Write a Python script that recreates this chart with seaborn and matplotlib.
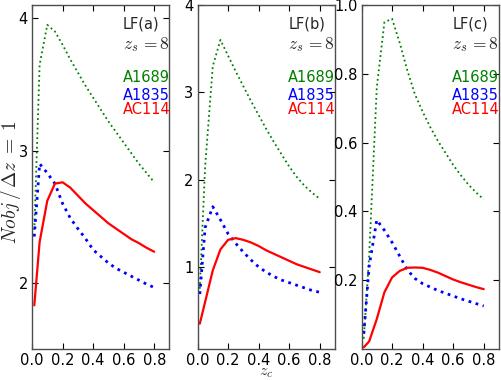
import pandas as pd
import seaborn as sns
import matplotlib
matplotlib.use("Agg")
import matplotlib.pyplot as plt

# source redshift grid (z_c)
z_c = [0.015, 0.05, 0.1, 0.15, 0.2, 0.25, 0.3, 0.35, 0.4, 0.45,
       0.5, 0.55, 0.6, 0.65, 0.7, 0.75, 0.8]

clusters = ["A1689", "A1835", "AC114"]
panels = ["LF(a)", "LF(b)", "LF(c)"]

# LF(a)
a1689_a = [2.40, 3.65, 3.95, 3.90, 3.80, 3.69, 3.59, 3.49, 3.40, 3.31,
           3.22, 3.14, 3.06, 2.98, 2.90, 2.83, 2.76]
a1835_a = [2.35, 2.90, 2.83, 2.75, 2.60, 2.49, 2.41, 2.335, 2.25, 2.20,
           2.15, 2.11, 2.08, 2.05, 2.02, 1.99, 1.965]
ac114_a = [1.83, 2.31, 2.62, 2.75, 2.76, 2.72, 2.66, 2.60, 2.55, 2.50,
           2.45, 2.41, 2.37, 2.33, 2.30, 2.265, 2.235]

# LF(b)
a1689_b = [0.75, 2.15, 3.30, 3.60, 3.42, 3.24, 3.07, 2.90, 2.74, 2.58,
           2.43, 2.29, 2.15, 2.03, 1.93, 1.85, 1.78]
a1835_b = [0.69, 1.45, 1.69, 1.54, 1.38, 1.27, 1.17, 1.08, 1.00, 0.94,
           0.89, 0.85, 0.82, 0.79, 0.76, 0.73, 0.71]
ac114_b = [0.35, 0.60, 0.96, 1.20, 1.31, 1.33, 1.31, 1.28, 1.24, 1.19,
           1.15, 1.11, 1.07, 1.03, 1.00, 0.97, 0.94]

# LF(c)
a1689_c = [0.03, 0.27, 0.76, 0.95, 0.96, 0.89, 0.81, 0.74, 0.69, 0.645,
           0.605, 0.57, 0.535, 0.505, 0.478, 0.455, 0.435]
a1835_c = [0.045, 0.24, 0.375, 0.345, 0.31, 0.27, 0.23, 0.205, 0.19, 0.18,
           0.17, 0.162, 0.154, 0.146, 0.139, 0.132, 0.125]
ac114_c = [0.005, 0.022, 0.087, 0.165, 0.208, 0.227, 0.236, 0.237, 0.236, 0.23,
           0.222, 0.212, 0.202, 0.194, 0.187, 0.18, 0.174]

y_ticks = [[2, 3, 4], [1, 2, 3, 4], [0.2, 0.4, 0.6, 0.8, 1.0]]
y_limits = [(1.5, 4.1), (0.06, 4.0), (0.0, 1.0)]
x_ticks = [0.0, 0.2, 0.4, 0.6, 0.8]


def build_frame():
    series = [[a1689_a, a1835_a, ac114_a],
              [a1689_b, a1835_b, ac114_b],
              [a1689_c, a1835_c, ac114_c]]
    rows = []
    for panel, group in zip(panels, series):
        for name, vals in zip(clusters, group):
            for x, y in zip(z_c, vals):
                rows.append({"panel": panel, "cluster": name, "zc": x, "nobj": y})
    return pd.DataFrame(rows)


def main():
    sns.set_style("ticks")
    plt.rcParams["font.family"] = ["DejaVu Sans"]
    plt.rcParams["mathtext.fontset"] = "cm"

    df = build_frame()
    colors = {"A1689": "#008000", "A1835": "#0000ff", "AC114": "#ff0000"}
    styles = {"A1689": (":", 1.3), "A1835": (":", 2.0), "AC114": ("-", 1.6)}

    fig = plt.figure(figsize=(5.01, 3.80), dpi=100)
    lefts = [32 / 501, 197.5 / 501, 361.5 / 501]
    width = 137.5 / 501
    bottom = 31 / 380
    height = 344 / 380

    for i, panel in enumerate(panels):
        ax = fig.add_axes([lefts[i], bottom, width, height])
        sub = df[df["panel"] == panel]
        for name in clusters:
            d = sub[sub["cluster"] == name]
            ls, lw = styles[name]
            sns.lineplot(data=d, x="zc", y="nobj", ax=ax, color=colors[name],
                         linestyle=ls, linewidth=lw, estimator=None, sort=False)

        ax.set_xlim(0, 0.9)
        ax.set_ylim(*y_limits[i])
        ax.set_xticks(x_ticks)
        ax.set_xticklabels(["0.0", "0.2", "0.4", "0.6", "0.8"])
        ax.set_yticks(y_ticks[i])
        if i == 2:
            ax.set_yticklabels(["0.2", "0.4", "0.6", "0.8", "1.0"])
        else:
            ax.set_yticklabels([str(t) for t in y_ticks[i]])
        ax.tick_params(direction="in", top=True, right=True, length=4,
                       width=0.8, labelsize=10.5, pad=3, colors="black")
        for sp in ax.spines.values():
            sp.set_color("0.3")
            sp.set_linewidth(1.0)

        ax.set_xlabel("$z_c$" if i == 1 else "", fontsize=11.5)
        ax.set_ylabel(r"$Nobj\,/\,\Delta z\;=\;1$" if i == 0 else "", fontsize=14)
        # place axis labels like the reference
        ax.xaxis.set_label_coords(0.5, -0.047)
        ax.yaxis.set_label_coords(-0.068, 0.485)

        tx = 0.66
        ax.text(tx, 0.945, panel, transform=ax.transAxes, fontsize=10.5,
                va="center", ha="left")
        ax.text(tx, 0.884, r"$z_s\,{=}8$", transform=ax.transAxes, fontsize=12.5,
                va="center", ha="left")
        for name, ty in zip(clusters, [0.788, 0.738, 0.695]):
            ax.text(tx, ty, name, transform=ax.transAxes, fontsize=10.5,
                    color=colors[name], va="center", ha="left")

    fig.savefig("out.png", dpi=100)


if __name__ == "__main__":
    main()
